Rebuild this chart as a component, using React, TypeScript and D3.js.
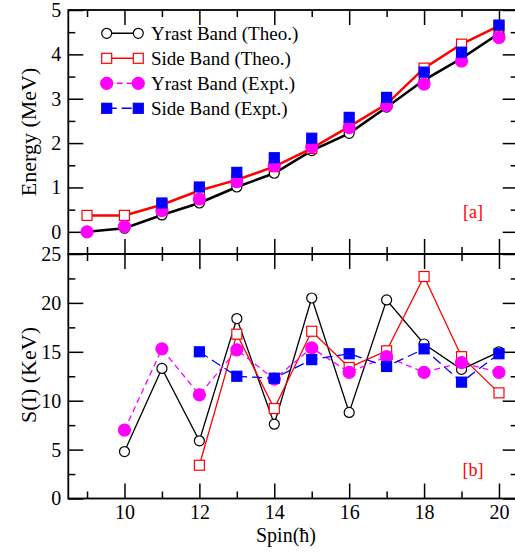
import React, { useEffect, useRef } from 'react';
import * as d3 from 'd3';

const spins = [9, 10, 11, 12, 13, 14, 15, 16, 17, 18, 19, 20];

// energy (MeV), panel [a]
const yrastTheoE = [0.0, 0.08, 0.38, 0.65, 1.01, 1.32, 1.83, 2.22, 2.81, 3.42, 3.91, 4.47];
const sideTheoE = [0.37, 0.37, 0.61, 0.93, 1.17, 1.47, 1.88, 2.37, 2.88, 3.69, 4.23, 4.64];
const yrastExptE = [0.0, 0.12, 0.48, 0.74, 1.13, 1.49, 1.92, 2.35, 2.85, 3.33, 3.85, 4.38];
const sideExptE = [null, null, 0.65, 1.01, 1.34, 1.67, 2.11, 2.58, 3.03, 3.6, 4.05, 4.66];

// staggering S(I) (keV), panel [b]
const yrastTheoS = [null, 4.8, 13.3, 5.9, 18.4, 7.6, 20.5, 8.8, 20.3, 15.8, 13.2, 15.0];
const sideTheoS = [null, null, null, 3.4, 16.8, 9.2, 17.1, 13.4, 15.1, 22.7, 14.5, 10.8];
const yrastExptS = [null, 7.0, 15.3, 10.6, 15.2, 12.2, 15.4, 12.9, 14.5, 12.9, 13.9, 12.9];
const sideExptS = [null, null, null, 15.0, 12.5, 12.3, 14.2, 14.8, 13.5, 15.3, 11.9, 14.8];

const xMajor = [10, 12, 14, 16, 18, 20];
const xMinor = [9, 11, 13, 15, 17, 19];
const eMajor = [0, 1, 2, 3, 4, 5];
const eMinor = [0.5, 1.5, 2.5, 3.5, 4.5];
const sMajor = [0, 5, 10, 15, 20, 25];
const sMinor = [2.5, 7.5, 12.5, 17.5, 22.5];

const series = [
  { name: 'Yrast Band (Theo.)', e: yrastTheoE, s: yrastTheoS, color: '#000000', marker: 'circle', fill: false, dash: null },
  { name: 'Side Band (Theo.)', e: sideTheoE, s: sideTheoS, color: '#ff0000', marker: 'square', fill: false, dash: null },
  { name: 'Yrast Band (Expt.)', e: yrastExptE, s: yrastExptS, color: '#ff00ff', marker: 'circle', fill: true, dash: '6,4' },
  { name: 'Side Band (Expt.)', e: sideExptE, s: sideExptS, color: '#0000ff', marker: 'square', fill: true, dash: '10,5' },
];

const W = 515;
const H = 553;
const FONT = 'Liberation Serif, Times New Roman, serif';

export default function App() {
  const ref = useRef<SVGSVGElement>(null);

  useEffect(() => {
    const svg = d3.select(ref.current);
    svg.selectAll('*').remove();

    const x = d3.scaleLinear().domain([8.5, 20.5]).range([68.3, 517.7]);
    const yE = d3.scaleLinear().domain([-0.5, 5]).range([254, 10]);
    const yS = d3.scaleLinear().domain([0, 25]).range([498.5, 254]);

    const panels = [
      { y: yE, key: 'e', major: eMajor, minor: eMinor, width: 2.5, label: '[a]', title: 'Energy (MeV)', exptLines: false },
      { y: yS, key: 's', major: sMajor, minor: sMinor, width: 1.3, label: '[b]', title: 'S(I) (KeV)', exptLines: true },
    ];

    panels.forEach((p, pi) => {
      const [y0, y1] = p.y.range(); // bottom, top
      const g = svg.append('g');

      // y axes (left with labels, right without)
      const left = g.append('g').attr('transform', `translate(${x.range()[0]},0)`)
        .call(d3.axisLeft(p.y).tickValues(p.major).tickSize(-15).tickPadding(7).tickFormat(d3.format('d')));
      left.append('g').call(d3.axisLeft(p.y).tickValues(p.minor).tickSize(-7).tickFormat(() => ''));
      const right = g.append('g').attr('transform', `translate(${x.range()[1]},0)`)
        .call(d3.axisRight(p.y).tickValues(p.major).tickSize(-15).tickFormat(() => ''));
      right.append('g').call(d3.axisRight(p.y).tickValues(p.minor).tickSize(-7).tickFormat(() => ''));

      // x ticks top and bottom of panel
      const top = g.append('g').attr('transform', `translate(0,${y1})`)
        .call(d3.axisTop(x).tickValues(xMajor).tickSize(-15).tickFormat(() => ''));
      top.append('g').call(d3.axisTop(x).tickValues(xMinor).tickSize(-7).tickFormat(() => ''));
      const bottom = g.append('g').attr('transform', `translate(0,${y0})`)
        .call(d3.axisBottom(x).tickValues(xMajor).tickSize(-15).tickPadding(6)
          .tickFormat(pi === 1 ? d3.format('d') : () => ''));
      bottom.append('g').call(d3.axisBottom(x).tickValues(xMinor).tickSize(-7).tickFormat(() => ''));

      g.selectAll('.domain').remove();
      g.selectAll('.tick line').attr('stroke', '#000').attr('stroke-width', 1.5);
      g.selectAll('text').attr('font-family', FONT).attr('font-size', 20).attr('fill', '#000');

      g.append('rect')
        .attr('x', x.range()[0]).attr('y', y1)
        .attr('width', x.range()[1] - x.range()[0]).attr('height', y0 - y1)
        .attr('fill', 'none').attr('stroke', '#000').attr('stroke-width', 1.8);

      // data
      series.forEach(s => {
        const vals = s[p.key] as (number | null)[];
        const pts = spins.map((sp, i) => ({ sp, v: vals[i] })).filter(d => d.v !== null) as { sp: number; v: number }[];
        const line = d3.line<{ sp: number; v: number }>().x(d => x(d.sp)).y(d => p.y(d.v));
        if (!s.fill || p.exptLines) {
          g.append('path').attr('d', line(pts)).attr('fill', 'none')
            .attr('stroke', s.color).attr('stroke-width', s.fill ? 1.3 : p.width)
            .attr('stroke-dasharray', s.dash);
        }
        drawMarkers(g, pts.map(d => [x(d.sp), p.y(d.v)]), s);
      });

      g.append('text').text(p.label)
        .attr('x', 473).attr('y', pi === 0 ? 218 : 476)
        .attr('text-anchor', 'middle').attr('fill', '#ff0000')
        .attr('font-family', FONT).attr('font-size', 18);

      g.append('text').text(p.title)
        .attr('transform', `translate(36,${pi === 0 ? 132 : 375}) rotate(-90)`)
        .attr('text-anchor', 'middle').attr('fill', '#000')
        .attr('font-family', FONT).attr('font-size', 22);
    });

    // legend
    const lg = svg.append('g');
    series.forEach((s, i) => {
      const ly = 33.3 + i * 25;
      lg.append('line').attr('x1', 106.7).attr('x2', 138.3).attr('y1', ly).attr('y2', ly)
        .attr('stroke', s.color).attr('stroke-width', 1.5).attr('stroke-dasharray', s.dash);
      drawMarkers(lg, [[106.7, ly], [138.3, ly]], s);
      lg.append('text').text(s.name).attr('x', 151).attr('y', ly + 6.5)
        .attr('font-family', FONT).attr('font-size', 19).attr('fill', '#000');
    });

    svg.append('text').text('Spin(ħ)')
      .attr('x', 286).attr('y', 542).attr('text-anchor', 'middle')
      .attr('font-family', FONT).attr('font-size', 20).attr('fill', '#000');
  }, []);

  return (
    <svg ref={ref} width={W} height={H}
      style={{ position: 'absolute', left: 0, top: 0, background: '#fff', overflow: 'hidden' }} />
  );
}

function drawMarkers(g: any, pts: number[][], s: { color: string; marker: string; fill: boolean }) {
  pts.forEach(([cx, cy]) => {
    if (s.marker === 'circle') {
      g.append('circle').attr('cx', cx).attr('cy', cy).attr('r', s.fill ? 6 : 5)
        .attr('fill', s.fill ? s.color : '#fff').attr('stroke', s.color).attr('stroke-width', 1.2);
    } else {
      const h = 5;
      g.append('rect').attr('x', cx - h).attr('y', cy - h).attr('width', 2 * h).attr('height', 2 * h)
        .attr('fill', s.fill ? s.color : '#fff').attr('stroke', s.color).attr('stroke-width', 1.2);
    }
  });
}
